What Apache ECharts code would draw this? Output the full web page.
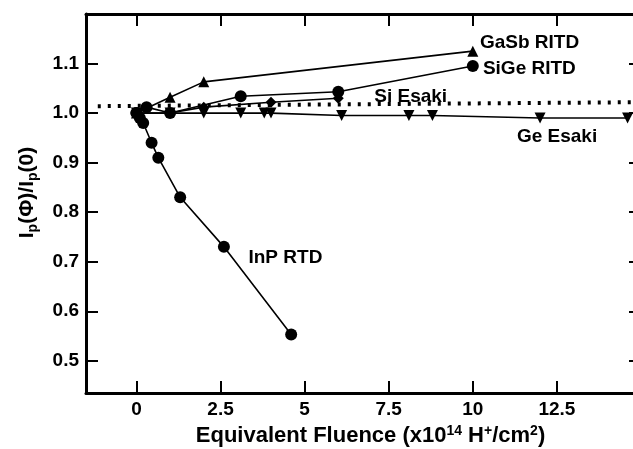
<!DOCTYPE html>
<html>
<head>
    <meta charset="utf-8">
    <title>Peak current vs fluence</title>
    <script src="https://cdn.jsdelivr.net/npm/echarts@6/dist/echarts.min.js"></script>
    <style>
        html, body { margin: 0; padding: 0; background: #fff; }
    </style>
</head>
<body>
<div id="main" style="width: 633px;height:449px;"></div>
<script type="text/javascript">
    // data
    const xTicks = [0, 2.5, 5, 7.5, 10, 12.5];
    const yTicks = [0.5, 0.6, 0.7, 0.8, 0.9, 1.0, 1.1];

    const inpX = [0, 0.1, 0.2, 0.45, 0.65, 1.3, 2.6, 4.6];
    const inpY = [1.0, 0.99, 0.98, 0.94, 0.91, 0.83, 0.73, 0.553];

    const gasbX = [0, 1.0, 2.0, 10.0];
    const gasbY = [1.0, 1.032, 1.063, 1.125];

    const sigeX = [0, 0.3, 1.0, 3.1, 6.0, 10.0];
    const sigeY = [1.0, 1.012, 1.0, 1.034, 1.043, 1.095];

    const siX = [0, 1.0, 2.0, 4.0, 6.0];
    const siY = [1.0, 1.0, 1.012, 1.022, 1.03];

    const geX = [0, 1.0, 2.0, 3.1, 3.8, 4.0, 6.1, 8.1, 8.8, 12.0, 14.6];
    const geY = [1.0, 1.0, 1.0, 1.0, 1.0, 1.0, 0.995, 0.995, 0.995, 0.99, 0.99];

    const dotX = [-1.15, 15];
    const dotY = [1.014, 1.022];

    const labelNames = ['GaSb RITD', 'SiGe RITD', 'Si Esaki', 'Ge Esaki', 'InP RTD'];
    const labelX = [10.21, 10.3, 7.07, 11.31, 3.33];
    const labelY = [1.141, 1.089, 1.032, 0.9515, 0.707];

    function zip(xs, ys) {
        return xs.map(function (x, i) { return [x, ys[i]]; });
    }

    const font = 'Liberation Sans, Arial, sans-serif';

    function lineSeries(name, xs, ys, symbol, size, rotate) {
        return {
            name: name,
            type: 'line',
            data: zip(xs, ys),
            symbol: symbol,
            symbolSize: size,
            symbolRotate: rotate || 0,
            lineStyle: { color: '#000', width: 1.6 },
            itemStyle: { color: '#000' },
            z: 3
        };
    }

    function frameAxis(pos, ticks, min, max) {
        return {
            type: 'value',
            min: min,
            max: max,
            position: pos,
            splitLine: { show: false },
            axisLine: { onZero: false, lineStyle: { color: '#000', width: 3 } },
            axisTick: { inside: true, length: 12, customValues: ticks, lineStyle: { color: '#000', width: 2 } },
            axisLabel: { show: false }
        };
    }

    let myChart = echarts.init(document.getElementById('main'));

    let xBottom = frameAxis('bottom', xTicks, -1.5, 15);
    xBottom.axisLabel = {
        customValues: xTicks, margin: 7, color: '#000',
        fontFamily: font, fontSize: 19, fontWeight: 'bold'
    };
    xBottom.name = 'Equivalent Fluence (x10{sup|14} H{sup|+}/cm{sup|2})';
    xBottom.nameLocation = 'middle';
    xBottom.nameGap = 27;
    xBottom.nameTextStyle = {
        color: '#000', fontFamily: font, fontSize: 22, fontWeight: 'bold',
        padding: [0, 0, 0, 14],
        rich: {
            sup: { fontFamily: font, fontSize: 14, fontWeight: 'bold', color: '#000', padding: [0, 0, 11, 0] }
        }
    };

    let yLeft = frameAxis('left', yTicks, 0.435, 1.2);
    yLeft.axisLabel = {
        customValues: yTicks, margin: 7, color: '#000',
        fontFamily: font, fontSize: 19, fontWeight: 'bold',
        formatter: function (v) { return v.toFixed(1); }
    };
    yLeft.name = 'I{sub|p}(Φ)/I{sub|p}(0)';
    yLeft.nameLocation = 'middle';
    yLeft.nameRotate = 90;
    yLeft.nameGap = 46;
    yLeft.nameTextStyle = {
        color: '#000', fontFamily: font, fontSize: 21, fontWeight: 'bold',
        padding: [0, 0, 0, 22],
        rich: {
            sub: { fontFamily: font, fontSize: 14, fontWeight: 'bold', color: '#000', padding: [12, 0, 0, 0] }
        }
    };

    myChart.setOption({
        animation: false,
        backgroundColor: '#fff',
        grid: { left: 86, top: 14, right: -8, bottom: 56, outerBoundsMode: 'none' },
        xAxis: [xBottom, frameAxis('top', xTicks, -1.5, 15)],
        yAxis: [yLeft, frameAxis('right', yTicks, 0.435, 1.2)],
        series: [
            {
                name: 'dotted',
                type: 'line',
                data: zip(dotX, dotY),
                symbol: 'none',
                lineStyle: { color: '#000', width: 4, type: [3, 7], cap: 'butt' },
                z: 2
            },
            lineSeries('InP RTD', inpX, inpY, 'circle', 12),
            lineSeries('GaSb RITD', gasbX, gasbY, 'triangle', 11),
            lineSeries('SiGe RITD', sigeX, sigeY, 'circle', 12),
            lineSeries('Si Esaki', siX, siY, 'diamond', 11),
            lineSeries('Ge Esaki', geX, geY, 'triangle', 11, 180),
            {
                name: 'labels',
                type: 'scatter',
                symbolSize: 0,
                itemStyle: { opacity: 1, color: '#000' },
                data: labelNames.map(function (n, i) { return { name: n, value: [labelX[i], labelY[i]] }; }),
                label: {
                    show: true,
                    position: 'right',
                    distance: 0,
                    formatter: '{b}',
                    color: '#000',
                    opacity: 1,
                    fontFamily: font,
                    fontSize: 19,
                    fontWeight: 'bold'
                },
                z: 4
            }
        ]
    });
</script>
</body>
</html>
